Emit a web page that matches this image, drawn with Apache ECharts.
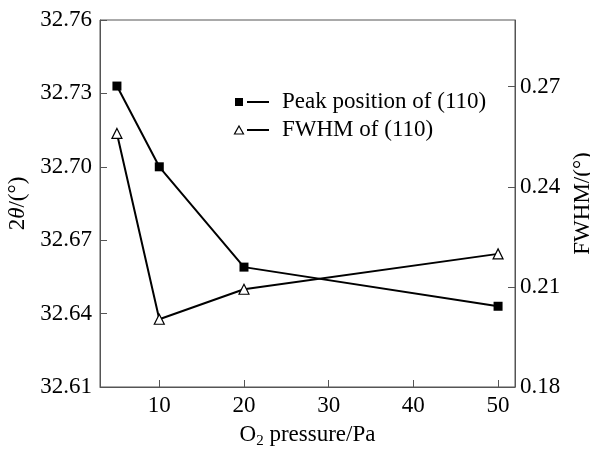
<!DOCTYPE html>
<html>
<head>
<meta charset="utf-8">
<script src="https://cdn.jsdelivr.net/npm/echarts@6/dist/echarts.min.js"></script>
<style>
  html, body { margin: 0; padding: 0; background: #fff; }
  #main { width: 590px; height: 450px; }
</style>
</head>
<body>
<div id="main"></div>
<script>
// O2 pressure (Pa)
var pressure = [5, 10, 20, 50];
// peak position of (110), 2theta in degrees (left axis)
var peakPos = [32.733, 32.700, 32.659, 32.643];
// FWHM of (110), degrees (right axis)
var fwhm = [0.256, 0.2003, 0.2093, 0.2199];
var legendNames = ['Peak position of (110)', 'FWHM of (110)'];

var FONT = 'Liberation Serif';
var FS = 23;
var axisColor = '#555';

function pairs(xs, ys) {
  return xs.map(function (x, i) { return [x, ys[i]]; });
}

var chart = echarts.init(document.getElementById('main'), null, { renderer: 'canvas' });

var option = {
  backgroundColor: '#fff',
  animation: false,
  textStyle: { fontFamily: FONT, color: '#000' },
  grid: {
    left: 100, right: 75, top: 20, bottom: 63,
    outerBoundsMode: 'none',
    containLabel: false,
    show: true, borderColor: axisColor, borderWidth: 1,
    backgroundColor: 'transparent'
  },
  xAxis: {
    type: 'value',
    min: 3, max: 52,
    splitNumber: 5,
    splitLine: { show: false },
    axisLine: { lineStyle: { color: axisColor, width: 1 } },
    axisTick: { inside: true, length: 7, lineStyle: { color: axisColor } },
    axisLabel: {
      fontFamily: FONT, fontSize: FS, color: '#000', margin: 7,
      showMinLabel: false, showMaxLabel: false
    },
    name: '{a|O}{s|2}{a| pressure/Pa}',
    nameLocation: 'middle',
    nameGap: 36,
    nameTextStyle: {
      rich: {
        a: { fontFamily: FONT, fontSize: FS, color: '#000', verticalAlign: 'top', lineHeight: 26 },
        s: { fontFamily: FONT, fontSize: 15, color: '#000', verticalAlign: 'bottom', lineHeight: 10 }
      }
    }
  },
  yAxis: [{
    type: 'value',
    min: 32.61, max: 32.76, interval: 0.03,
    position: 'left',
    splitLine: { show: false },
    axisLine: { show: true, lineStyle: { color: axisColor } },
    axisTick: { inside: true, length: 7, lineStyle: { color: axisColor } },
    axisLabel: {
      fontFamily: FONT, fontSize: FS, color: '#000', margin: 8,
      formatter: function (v) { return v.toFixed(2); }
    },
    name: '{n|2}{i|θ}{n|/(°)}',
    nameLocation: 'middle',
    nameRotate: 90,
    nameGap: 68,
    nameTextStyle: {
      rich: {
        n: { fontFamily: FONT, fontSize: FS, color: '#000' },
        i: { fontFamily: FONT, fontSize: FS, color: '#000', fontStyle: 'italic' }
      }
    }
  }, {
    type: 'value',
    min: 0.18, max: 0.29, interval: 0.03,
    position: 'right',
    splitLine: { show: false },
    axisLine: { show: true, lineStyle: { color: axisColor } },
    axisTick: { inside: true, length: 7, lineStyle: { color: axisColor } },
    axisLabel: {
      fontFamily: FONT, fontSize: FS, color: '#000', margin: 5,
      showMaxLabel: false,
      formatter: function (v) { return v.toFixed(2); }
    },
    name: 'FWHM/(°)',
    nameLocation: 'middle',
    nameRotate: 90,
    nameGap: 44,
    nameTextStyle: { fontFamily: FONT, fontSize: FS, color: '#000' }
  }],
  series: [{
    name: legendNames[0],
    type: 'line',
    yAxisIndex: 0,
    data: pairs(pressure, peakPos),
    symbol: 'rect',
    symbolSize: 9,
    itemStyle: { color: '#000' },
    lineStyle: { color: '#000', width: 2 },
    z: 3
  }, {
    name: legendNames[1],
    type: 'line',
    yAxisIndex: 1,
    data: pairs(pressure, fwhm),
    symbol: 'triangle',
    symbolSize: 10,
    itemStyle: { color: '#fff', borderColor: '#000', borderWidth: 1.2 },
    lineStyle: { color: '#000', width: 2 },
    z: 3
  }],
  graphic: [
    { type: 'rect', shape: { x: 235, y: 98, width: 8, height: 8 }, style: { fill: '#000' } },
    { type: 'line', shape: { x1: 247, y1: 102, x2: 269, y2: 102 }, style: { stroke: '#000', lineWidth: 2 } },
    { type: 'text', x: 282, y: 102, style: { text: legendNames[0], font: FS + 'px ' + FONT, fill: '#000', verticalAlign: 'middle' } },
    { type: 'polygon', shape: { points: [[239, 126], [243.5, 134], [234.5, 134]] }, style: { fill: '#fff', stroke: '#000', lineWidth: 1.2 } },
    { type: 'line', shape: { x1: 247, y1: 130, x2: 269, y2: 130 }, style: { stroke: '#000', lineWidth: 2 } },
    { type: 'text', x: 282, y: 130, style: { text: legendNames[1], font: FS + 'px ' + FONT, fill: '#000', verticalAlign: 'middle' } }
  ]
};

chart.setOption(option);
</script>
</body>
</html>
